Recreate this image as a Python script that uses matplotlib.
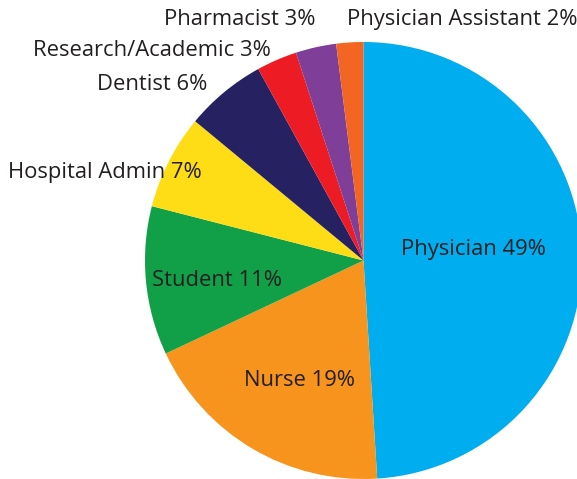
import matplotlib
matplotlib.use("Agg")
import matplotlib.pyplot as plt

# Data
categories = ["Physician", "Nurse", "Student", "Hospital Admin", "Dentist",
              "Research/Academic", "Pharmacist", "Physician Assistant"]
shares = [49, 19, 11, 7, 6, 3, 3, 2]
colors = ["#00AEEF", "#F7941D", "#11A048", "#FEDD17", "#262262",
          "#ED1C24", "#7F3F98", "#F26522"]

# Layout (pixel coordinates, y from top)
W, H = 577, 479
cx, cy, r = 363.5, 260.5, 218.5
label_pos = [(473, 249), (299, 381), (217, 281), (105, 172), (152, 84),
             (152, 50), (240, 19), (462, 19)]

plt.rcParams['font.family'] = ['Open Sans', 'DejaVu Sans']
fig = plt.figure(figsize=(W / 100, H / 100), dpi=100)
ax = fig.add_axes([0, 0, 1, 1])

ax.pie(shares, colors=colors, startangle=90, counterclock=False,
       center=(cx, H - cy), radius=r, frame=True,
       wedgeprops=dict(linewidth=0))
ax.set_xlim(0, W)
ax.set_ylim(0, H)
ax.set_aspect('equal')
ax.axis('off')

for name, val, (x, y) in zip(categories, shares, label_pos):
    ax.text(x, H - y, f"{name} {val}%", ha='center', va='center',
            fontsize=15.8, color='#231F20')

fig.savefig("out.png", dpi=100)
